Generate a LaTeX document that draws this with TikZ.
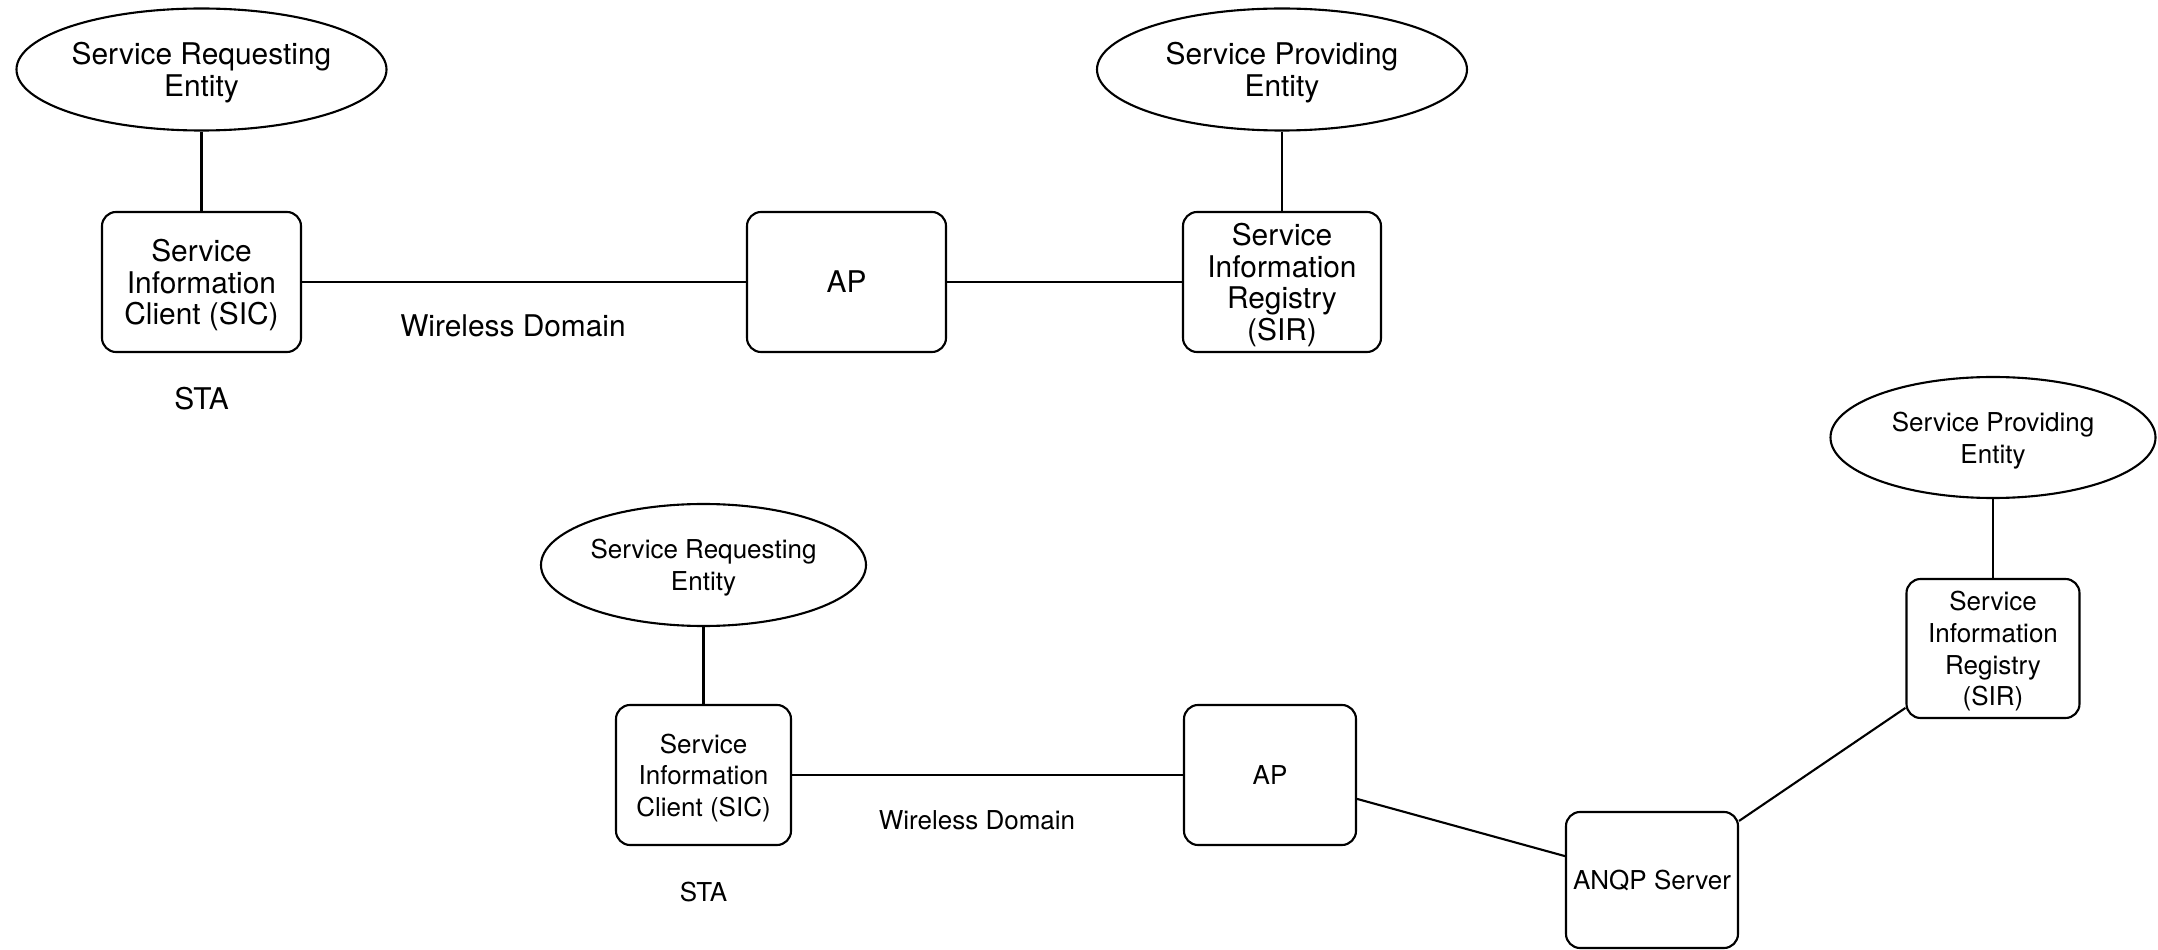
\documentclass[tikz,border=0pt]{standalone}
\usepackage{fontspec}
\setmainfont{TeX Gyre Heros}
\usetikzlibrary{positioning, shapes.geometric}

\begin{document}
\begin{tikzpicture}[
    entity/.style={ellipse, draw, line width=0.6pt, minimum width=#1,
                   minimum height=1.22cm, inner sep=0pt, text depth=0pt,
                   align=center},
    entity/.default=3.7cm,
    unit/.style={rectangle, rounded corners=4pt, draw, line width=0.6pt,
                 minimum width=#1, minimum height=1.40cm, inner sep=1pt,
                 text depth=0pt, align=center},
    unit/.default=1.99cm,
    link/.style={line width=0.6pt},
    upper/.style={font=\fontsize{8.5}{9}\selectfont},
    lower/.style={font=\fontsize{7.4}{9}\selectfont},
  ]
    \useasboundingbox (0, 0) rectangle (21.58, 9.49);

    % first case: SIR sits right behind the AP
    \node[entity, upper] (req1) at (2.015, 8.795) {Service Requesting\\Entity};
    \node[unit, upper] (sic1) at (2.015, 6.67) {Service\\Information\\Client (SIC)};
    \node[unit, upper] (ap1) at (8.465, 6.67) {AP};
    \node[unit=1.98cm, upper] (sir1) at (12.82, 6.67)
      {Service\\Information\\Registry\\(SIR)};
    \node[entity, upper] (prov1) at (12.82, 8.795) {Service Providing\\Entity};
    \node[upper] (wd1) at (5.13, 6.23) {Wireless Domain};
    \node[upper] (sta1) at (2.015, 5.50) {STA};

    \draw[link] (req1) -- (sic1);
    \draw[link] (sic1) -- (ap1);
    \draw[link] (ap1) -- (sir1);
    \draw[link] (prov1) -- (sir1);

    % second case: SIR reached through the ANQP server
    \node[entity=3.25cm, lower] (req2) at (7.035, 3.84) {Service Requesting\\Entity};
    \node[unit=1.75cm, lower] (sic2) at (7.035, 1.74) {Service\\Information\\Client (SIC)};
    \node[unit=1.72cm, lower] (ap2) at (12.70, 1.74) {AP};
    \node[unit=1.72cm, minimum height=1.36cm, lower] (anqp) at (16.52, 0.69)
      {ANQP Server};
    \node[unit=1.73cm, minimum height=1.39cm, lower] (sir2) at (19.93, 3.005)
      {Service\\Information\\Registry\\(SIR)};
    \node[entity=3.25cm, minimum height=1.21cm, lower] (prov2) at (19.93, 5.115)
      {Service Providing\\Entity};
    \node[lower] (wd2) at (9.77, 1.29) {Wireless Domain};
    \node[lower] (sta2) at (7.035, 0.57) {STA};

    \draw[link] (req2) -- (sic2);
    \draw[link] (sic2) -- (ap2);
    \draw[link] (ap2) -- (anqp);
    \draw[link] (anqp) -- (sir2);
    \draw[link] (prov2) -- (sir2);
  \end{tikzpicture}
\end{document}
